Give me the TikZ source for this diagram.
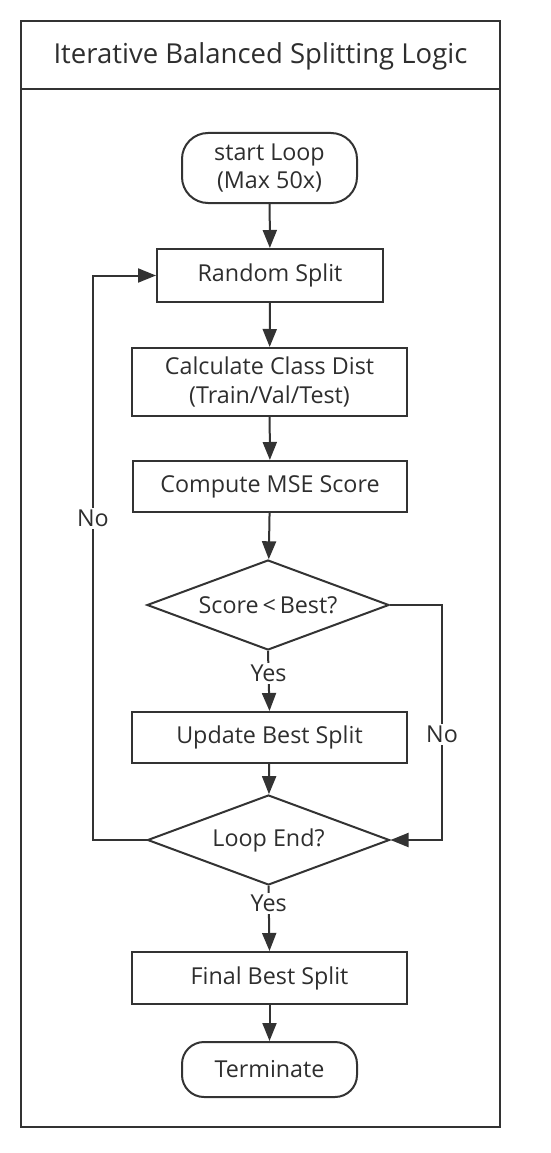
\documentclass[tikz,border=0pt]{standalone}
\usepackage{fontspec}
\setmainfont{Open Sans}
\usetikzlibrary{shapes.geometric,arrows.meta}
\definecolor{ink}{HTML}{333333}
\definecolor{txt}{HTML}{2E2E2E}
\begin{document}
\begin{tikzpicture}[x=1pt,y=-1pt,
  every node/.style={text=txt,font=\fontsize{23.3}{28.5}\selectfont},
  box/.style={draw=ink,line width=2pt,rectangle,inner sep=0pt,align=center},
  term/.style={draw=ink,line width=2pt,rectangle,rounded corners=26pt,inner sep=0pt,align=center},
  dec/.style={draw=ink,line width=2pt,diamond,aspect=2.69,inner sep=0pt,minimum width=242pt,minimum height=90pt},
  flow/.style={draw=ink,line width=2pt,-{Triangle[width=14pt,length=18pt]}},
  lbl/.style={fill=white,inner sep=2pt}]
\useasboundingbox (0,0) rectangle (550,1153);
% frame
\draw[ink,line width=2.8pt] (21,21) rectangle (500,1127);
\draw[ink,line width=2.8pt] (21,89) -- (500,89);
\node[font=\fontsize{27.5}{32}\selectfont] (title) at (260.5,56) {Iterative Balanced Splitting Logic};
% nodes
\node[term,minimum width=175pt,minimum height=70pt] (start) at (269.5,168) {start Loop\\(Max 50x)};
\node[box,minimum width=226pt,minimum height=53pt] (rand) at (270,275.5) {Random Split};
\node[box,minimum width=275pt,minimum height=68pt] (calc) at (269.5,382) {Calculate Class Dist\\(Train/Val/Test)};
\node[box,minimum width=274pt,minimum height=51pt] (mse) at (270,486.5) {Compute MSE Score};
\node[dec] (score) at (268,605) {Score\,<\,Best?};
\node[box,minimum width=275pt,minimum height=51pt] (upd) at (269.5,737.5) {Update Best Split};
\node[dec] (loopend) at (268.5,840) {Loop End?};
\node[box,minimum width=275pt,minimum height=52pt] (final) at (269.5,978) {Final Best Split};
\node[term,minimum width=175pt,minimum height=55pt,rounded corners=22pt] (termn) at (269.5,1069.5) {Terminate};
\coordinate (lc) at (93,840);
\coordinate (lt) at (93,275.5);
\coordinate (rc) at (442,605);
\coordinate (rb) at (442,840);
% connectors
\draw[flow] (start) -- (rand);
\draw[flow] (rand) -- (calc);
\draw[flow] (calc) -- (mse);
\draw[flow] (mse) -- (score);
\draw[flow] (score.south) -- node[lbl,pos=0.37] (yes1) {Yes} (upd.north);
\draw[flow] (upd) -- (loopend);
\draw[flow] (loopend.south) -- node[lbl,pos=0.27] (yes2) {Yes} (final.north);
\draw[flow] (final) -- (termn);
\draw[flow] (loopend.west) -- (lc) -- node[lbl,pos=0.57] (no1) {No} (lt) -- (rand.west);
\draw[flow] (score.east) -- (rc) -- node[lbl,pos=0.55] (no2) {No} (rb) -- (loopend.east);
\end{tikzpicture}
\end{document}
